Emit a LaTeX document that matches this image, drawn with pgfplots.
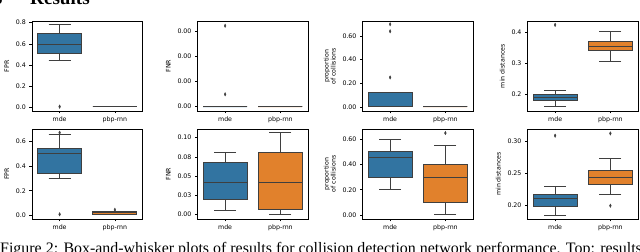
\documentclass[border=0pt]{standalone}
\usepackage{fontspec}
\setmainfont{DejaVu Sans}
\newfontfamily\serifcap{Liberation Serif}
\usepackage{pgfplots}
\pgfplotsset{compat=1.18}
\usepgfplotslibrary{statistics}
\definecolor{sbblue}{HTML}{3274A1}
\definecolor{sborange}{HTML}{E1812C}
\definecolor{boxgray}{HTML}{3F3F3F}

\pgfplotsset{
  panel/.style={
    scale only axis, width=110.5bp, height=89.5bp, anchor=south west,
    boxplot/draw direction=y,
    xmin=-0.5, xmax=1.5, xtick={0,1}, xticklabels={mde,pbp-rnn},
    axis line style={black, line width=0.6bp},
    every tick/.style={black, line width=0.6bp},
    tick align=outside, major tick length=2.5bp,
    xtick pos=bottom, ytick pos=left,
    tick label style={font=\fontsize{6.3}{7}\selectfont},
    label style={font=\fontsize{6.3}{7}\selectfont},
    /pgf/number format/assume math mode=true,
    scaled y ticks=false,
    ylabel style={align=center},
    yticklabel style={/pgf/number format/fixed, /pgf/number format/fixed zerofill},
  },
  outl/.style={only marks, mark=diamond*, mark size=1.7bp,
    mark options={draw=boxgray, fill=boxgray, xscale=0.7}},
  bxb/.style={draw=boxgray, fill=sbblue, line width=1bp},
  bxo/.style={draw=boxgray, fill=sborange, line width=1bp},
}

\begin{document}
\begin{tikzpicture}
\useasboundingbox (0,0) rectangle (640bp,252bp);
\clip (0,0) rectangle (640bp,252bp);

% header and caption (cropped as in the reference)
\node[anchor=base east, inner sep=0, font=\serifcap\bfseries\fontsize{19.2}{22}\selectfont] at (3bp,247.5bp) {5};
\node[anchor=base west, inner sep=0, font=\serifcap\bfseries\fontsize{19.2}{22}\selectfont] at (30bp,247.5bp) {Results};
\node[anchor=base west, inner sep=0, font=\serifcap\fontsize{16}{19}\selectfont] at (0bp,-1.6bp) {Figure 2: Box-and-whisker plots of results for collision detection network performance. Top: results};

% ---------- top row ----------
\begin{axis}[panel, at={(32bp,141bp)}, ymin=-0.031, ymax=0.81,
  ytick={0,0.2,0.4,0.6,0.8}, yticklabel style={/pgf/number format/precision=1}, ylabel={FPR}]
\addplot[bxb, boxplot prepared={draw position=0, lower whisker=0.44, lower quartile=0.512, median=0.597, upper quartile=0.70, upper whisker=0.778, box extend=0.8, whisker extend=0.4}] coordinates {};
\addplot[bxo, boxplot prepared={draw position=1, lower whisker=0.015, lower quartile=0.015, median=0.015, upper quartile=0.015, upper whisker=0.015, box extend=0.8, whisker extend=0.4}] coordinates {};
\addplot[outl] coordinates {(0,0.01)};
\end{axis}

% FNR values in units of 0.001 (tick labels print as 0.00)
\begin{axis}[panel, at={(197.5bp,141bp)}, ymin=-0.17, ymax=3.37,
  ytick={0,1,2,3}, yticklabels={0.00,0.00,0.00,0.00}, ylabel={FNR}]
\addplot[bxb, boxplot prepared={draw position=0, lower whisker=0, lower quartile=0, median=0, upper quartile=0, upper whisker=0, box extend=0.8, whisker extend=0.4}] coordinates {};
\addplot[bxo, boxplot prepared={draw position=1, lower whisker=0, lower quartile=0, median=0, upper quartile=0, upper whisker=0, box extend=0.8, whisker extend=0.4}] coordinates {};
\addplot[outl] coordinates {(0,0.49) (0,3.2)};
\end{axis}

\begin{axis}[panel, at={(362.5bp,141bp)}, ymin=-0.034, ymax=0.723,
  ytick={0,0.2,0.4,0.6}, yticklabel style={/pgf/number format/precision=2}, ylabel={proportion\\of collisions}]
\addplot[bxb, boxplot prepared={draw position=0, lower whisker=0, lower quartile=0, median=0, upper quartile=0.125, upper whisker=0.125, box extend=0.8, whisker extend=0.4}] coordinates {};
\addplot[bxo, boxplot prepared={draw position=1, lower whisker=0, lower quartile=0, median=0, upper quartile=0, upper whisker=0, box extend=0.8, whisker extend=0.4}] coordinates {};
\addplot[outl] coordinates {(0,0.25) (0,0.64) (0,0.70)};
\end{axis}

\begin{axis}[panel, at={(527.5bp,141bp)}, ymin=0.145, ymax=0.436,
  ytick={0.2,0.3,0.4}, yticklabel style={/pgf/number format/precision=1}, ylabel={min distances}]
\addplot[bxb, boxplot prepared={draw position=0, lower whisker=0.159, lower quartile=0.179, median=0.189, upper quartile=0.200, upper whisker=0.211, box extend=0.8, whisker extend=0.4}] coordinates {};
\addplot[bxo, boxplot prepared={draw position=1, lower whisker=0.307, lower quartile=0.342, median=0.356, upper quartile=0.370, upper whisker=0.403, box extend=0.8, whisker extend=0.4}] coordinates {};
\addplot[outl] coordinates {(0,0.425)};
\end{axis}

% ---------- bottom row ----------
\begin{axis}[panel, at={(32bp,33bp)}, height=90bp, ymin=-0.030, ymax=0.703,
  ytick={0,0.2,0.4,0.6}, yticklabel style={/pgf/number format/precision=1}, ylabel={FPR}]
\addplot[bxb, boxplot prepared={draw position=0, lower whisker=0.296, lower quartile=0.342, median=0.502, upper quartile=0.546, upper whisker=0.66, box extend=0.8, whisker extend=0.4}] coordinates {};
\addplot[bxo, boxplot prepared={draw position=1, lower whisker=0.005, lower quartile=0.008, median=0.02, upper quartile=0.028, upper whisker=0.035, box extend=0.8, whisker extend=0.4}] coordinates {};
\addplot[outl] coordinates {(0,0.008) (0,0.673) (1,0.045)};
\end{axis}

\begin{axis}[panel, at={(197.5bp,33bp)}, height=90bp, ymin=-0.0056, ymax=0.1113,
  ytick={0,0.025,0.05,0.075,0.1}, yticklabel style={/pgf/number format/precision=2}, ylabel={FNR}]
\addplot[bxb, boxplot prepared={draw position=0, lower whisker=0.0052, lower quartile=0.020, median=0.0416, upper quartile=0.0675, upper whisker=0.0805, box extend=0.8, whisker extend=0.4}] coordinates {};
\addplot[bxo, boxplot prepared={draw position=1, lower whisker=0.0, lower quartile=0.0061, median=0.0421, upper quartile=0.0811, upper whisker=0.1065, box extend=0.8, whisker extend=0.4}] coordinates {};
\end{axis}

\begin{axis}[panel, at={(362.5bp,33bp)}, height=90bp, ymin=-0.032, ymax=0.682,
  ytick={0,0.2,0.4,0.6}, yticklabel style={/pgf/number format/precision=2}, ylabel={proportion\\of collisions}]
\addplot[bxb, boxplot prepared={draw position=0, lower whisker=0.20, lower quartile=0.30, median=0.455, upper quartile=0.50, upper whisker=0.60, box extend=0.8, whisker extend=0.4}] coordinates {};
\addplot[bxo, boxplot prepared={draw position=1, lower whisker=0.0, lower quartile=0.10, median=0.30, upper quartile=0.40, upper whisker=0.55, box extend=0.8, whisker extend=0.4}] coordinates {};
\addplot[outl] coordinates {(1,0.65)};
\end{axis}

\begin{axis}[panel, at={(527.5bp,33bp)}, height=90bp, ymin=0.178, ymax=0.320,
  ytick={0.2,0.25,0.3}, yticklabel style={/pgf/number format/precision=2}, ylabel={min distances}]
\addplot[bxb, boxplot prepared={draw position=0, lower whisker=0.184, lower quartile=0.1984, median=0.210, upper quartile=0.2174, upper whisker=0.230, box extend=0.8, whisker extend=0.4}] coordinates {};
\addplot[bxo, boxplot prepared={draw position=1, lower whisker=0.2169, lower quartile=0.2332, median=0.2427, upper quartile=0.2543, upper whisker=0.2727, box extend=0.8, whisker extend=0.4}] coordinates {};
\addplot[outl] coordinates {(0,0.3095) (1,0.313) (1,0.199)};
\end{axis}
\end{tikzpicture}
\end{document}
